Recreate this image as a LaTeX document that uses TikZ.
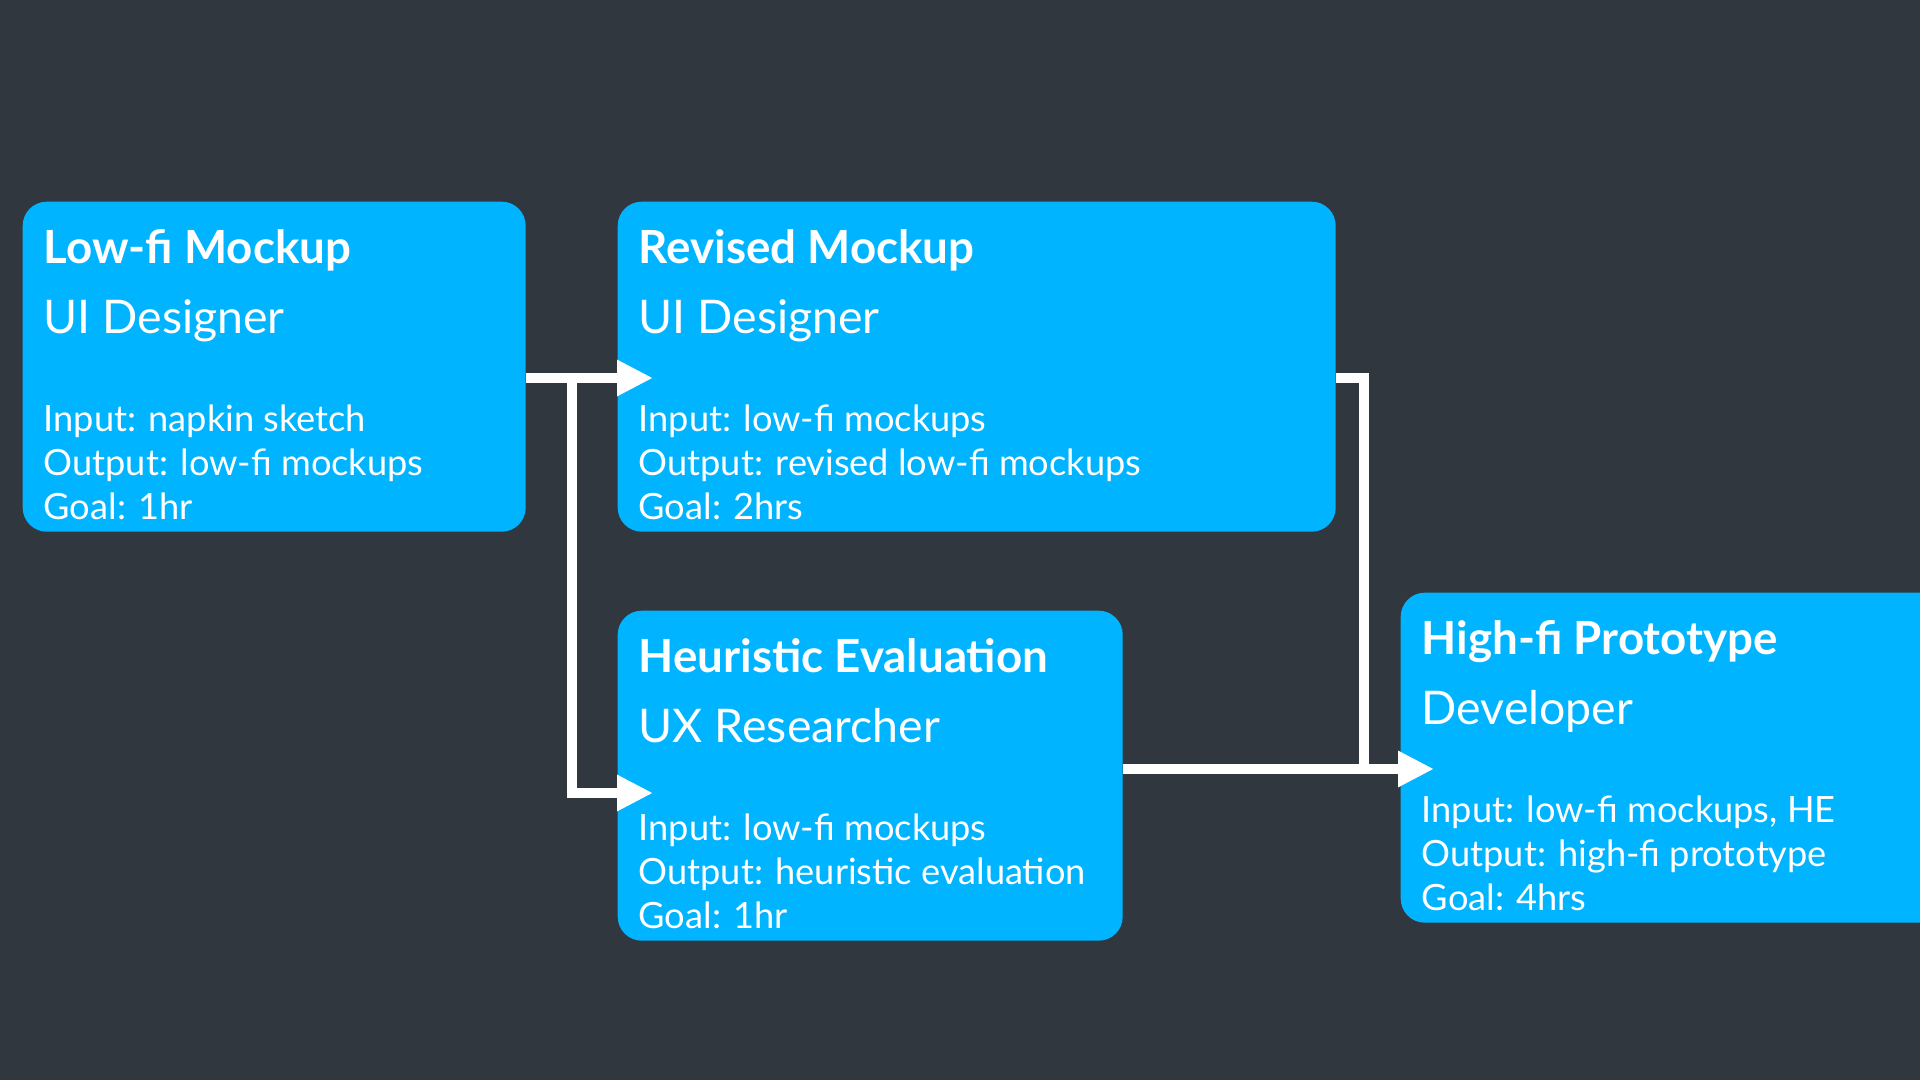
\documentclass[tikz,border=0pt]{standalone}
\usepackage{fontspec}
\setmainfont{Lato}
\usetikzlibrary{arrows.meta,positioning}

\definecolor{slate}{RGB}{49,55,63}
\definecolor{sky}{RGB}{0,180,255}

\tikzset{
  card/.style={fill=sky, rounded corners=0.24cm, minimum height=3.30cm, anchor=north west, inner sep=0pt},
  cardtext/.style={text=white, anchor=base west, inner sep=0pt},
  cardtitle/.style={cardtext, font=\fontsize{13.0}{15}\selectfont\bfseries},
  cardrole/.style={cardtext, font=\fontsize{13.2}{15}\selectfont},
  cardline/.style={cardtext, font=\fontsize{10.3}{12}\selectfont},
  wire/.style={draw=white, line width=2.6pt},
  flow/.style={wire, -{Triangle[length=3.6mm,width=3.4mm]}},
}

% name, corner, width, title, role, input, output, goal
\newcommand{\card}[8]{%
  \node[card, minimum width=#3cm] (#1) at #2 {};
  \node[cardtitle] (#1-title) at ([shift={(0.21,-0.63)}]#1.north west) {#4};
  \node[cardrole] (#1-role) at ([shift={(0.21,-1.33)}]#1.north west) {#5};
  \node[cardline] (#1-in) at ([shift={(0.21,-2.31)}]#1.north west) {Input: #6};
  \node[cardline] (#1-out) at ([shift={(0.21,-2.75)}]#1.north west) {Output: #7};
  \node[cardline] (#1-goal) at ([shift={(0.21,-3.19)}]#1.north west) {Goal: #8};
}

\begin{document}
\begin{tikzpicture}[x=1cm,y=1cm]
\useasboundingbox (0,0) rectangle (19.2,10.8);
\clip (0,0) rectangle (19.2,10.8);
\fill[slate] (0,0) rectangle (19.2,10.8);

\card{lofi}{(0.22,8.79)}{5.03}{Low-fi Mockup}{UI Designer}{napkin sketch}{low-fi mockups}{1hr}
\card{revised}{(6.17,8.79)}{7.18}{Revised Mockup}{UI Designer}{low-fi mockups}{revised low-fi mockups}{2hrs}
\card{heur}{(6.17,4.70)}{5.05}{Heuristic Evaluation}{UX Researcher}{low-fi mockups}{heuristic evaluation}{1hr}
\card{high}{(14.00,4.88)}{6.00}{High-fi Prototype}{Developer}{low-fi mockups, HE}{high-fi prototype}{4hrs}

\coordinate (rowtop) at (0,7.02);
\coordinate (rowmid) at (0,3.11);
\coordinate (rowlow) at (0,2.87);
\coordinate (fork) at (5.72,7.02);
\coordinate (join) at (13.64,3.11);

\draw[flow] (lofi.east |- rowtop) -- ([xshift=3.6mm]revised.west |- rowtop);
\draw[flow] (fork) |- ([xshift=3.6mm]heur.west |- rowlow);
\draw[wire] (revised.east |- rowtop) -| (join);
\draw[flow] (heur.east |- rowmid) -- ([xshift=3.4mm]high.west |- rowmid);
\end{tikzpicture}
\end{document}
